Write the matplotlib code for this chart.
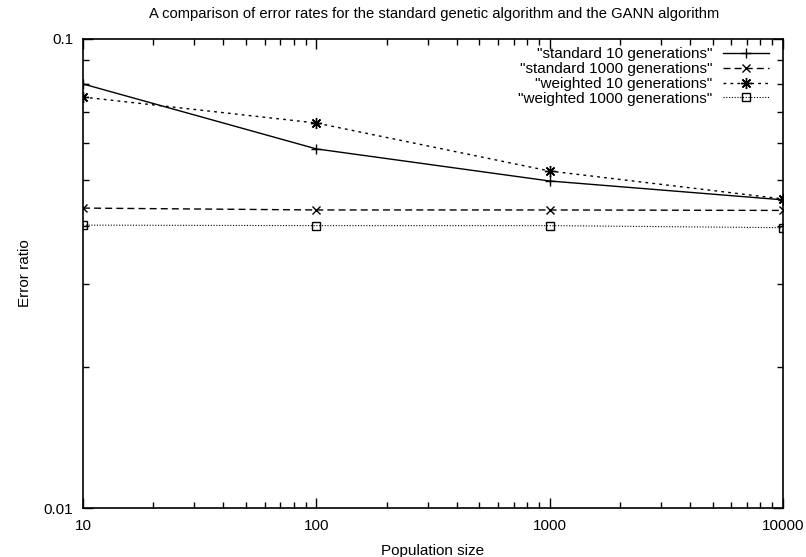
import matplotlib
matplotlib.use("Agg")
import matplotlib.pyplot as plt
from matplotlib.ticker import LogLocator, NullFormatter, FixedLocator, FixedFormatter

plt.rcParams['font.family'] = ['Liberation Sans', 'DejaVu Sans']

population = [10, 100, 1000, 10000]
standard_10 = [0.0802, 0.0583, 0.0498, 0.0454]
standard_1000 = [0.0436, 0.0432, 0.0432, 0.0431]
weighted_10 = [0.0752, 0.0662, 0.0523, 0.0456]
weighted_1000 = [0.0401, 0.0400, 0.0400, 0.0396]

fig = plt.figure(figsize=(8.06, 5.57), dpi=100)
ax = fig.add_axes([83 / 806, 1 - 508 / 557, 700 / 806, 469 / 557])

ax.plot(population, standard_10, color="black", lw=1, ls="-",
        marker="+", ms=7, mew=1, label='"standard 10 generations"')
ax.plot(population, standard_1000, color="black", lw=1, ls=(0, (5, 3)),
        marker="x", ms=6, mew=1, label='"standard 1000 generations"')
ax.plot(population, weighted_10, color="black", lw=1, ls=(0, (2, 3)),
        marker=(8, 2, 0), ms=8, mew=1, label='"weighted 10 generations"')
ax.plot(population, weighted_1000, color="black", lw=0.8, ls=(0, (1, 1.5)),
        marker="s", ms=6, mew=1, mfc="none", label='"weighted 1000 generations"')

ax.set_xscale("log")
ax.set_yscale("log")
ax.set_xlim(10, 10000)
ax.set_ylim(0.01, 0.1)

ax.xaxis.set_major_locator(FixedLocator([10, 100, 1000, 10000]))
ax.xaxis.set_major_formatter(FixedFormatter(["10", "100", "1000", "10000"]))
ax.xaxis.set_minor_locator(LogLocator(base=10, subs=range(2, 10)))
ax.xaxis.set_minor_formatter(NullFormatter())
ax.yaxis.set_major_locator(FixedLocator([0.01, 0.1]))
ax.yaxis.set_major_formatter(FixedFormatter(["0.01", "0.1"]))
ax.yaxis.set_minor_locator(LogLocator(base=10, subs=range(2, 10)))
ax.yaxis.set_minor_formatter(NullFormatter())

ax.tick_params(which="both", direction="in", top=True, right=True,
               labelsize=11, pad=7)
ax.tick_params(axis="x", pad=8)
ax.tick_params(which="major", length=7, width=1)
ax.tick_params(which="minor", length=4, width=1)
for s in ax.spines.values():
    s.set_linewidth(1.2)

fig.text(434 / 806, 1 - 14 / 557,
         "A comparison of error rates for the standard genetic algorithm and the GANN algorithm",
         fontsize=10.6, ha="center", va="center")
ax.set_xlabel("Population size", fontsize=11, labelpad=8)
ax.set_ylabel("Error ratio", fontsize=11, labelpad=8.5)

leg = ax.legend(loc="upper right", bbox_to_anchor=(0.9866, 0.992),
                markerfirst=False, frameon=False,
                fontsize=11, handlelength=3.0, numpoints=1,
                borderaxespad=0, borderpad=0.3, labelspacing=0.05,
                handletextpad=0.7)
for t in leg.get_texts():
    t.set_ha("right")
leg._legend_box.align = "right"

fig.savefig("out.png", dpi=100)
